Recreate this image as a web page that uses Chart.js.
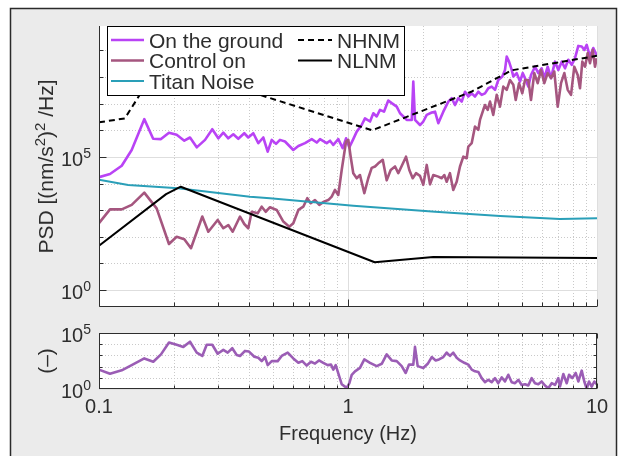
<!DOCTYPE html>
<html>
<head>
<meta charset="utf-8">
<script src="https://cdn.jsdelivr.net/npm/chart.js@4.4.1/dist/chart.umd.min.js"></script>
<style>
  html, body { margin: 0; padding: 0; background: #fff; }
  #wrap { position: relative; width: 622px; height: 456px; overflow: hidden; }
  #wrap canvas { position: absolute; left: 0; top: 0; }
</style>
</head>
<body>
<div id="wrap">
  <canvas id="psdChart" width="622" height="456"></canvas>
  <canvas id="ratioChart" width="622" height="456"></canvas>
</div>
<script>
// PSD comparison: ground vs control, with Peterson noise models and ratio panel.

// --- data (frequency in Hz, PSD in (nm/s^2)^2/Hz) ---
const groundFreq = [
  0.100, 0.1107, 0.1234, 0.1353, 0.152, 0.165, 0.1774, 0.191, 0.2051, 0.2201, 0.232, 0.2469, 0.2666,
  0.2851, 0.3014, 0.3157, 0.3306, 0.3463, 0.3626, 0.3832, 0.3977, 0.4166, 0.4363, 0.4569, 0.4759,
  0.494, 0.514, 0.533, 0.5585, 0.603, 0.632, 0.672, 0.715, 0.749, 0.772, 0.821, 0.847, 0.873, 0.914, 0.952, 0.982,
  1.012, 1.050, 1.084, 1.135, 1.170, 1.226, 1.264, 1.304, 1.344, 1.395, 1.451, 1.498, 1.569, 1.618, 1.668, 1.721, 1.803, 1.829,
  1.858, 1.946, 2.006, 2.071, 2.169, 2.236, 2.305, 2.414, 2.528, 2.609, 2.690, 2.773, 2.862, 2.951,
  3.042, 3.140, 3.236, 3.337, 3.443, 3.550, 3.660, 3.777, 3.895,
  4.014, 4.166, 4.271, 4.339, 4.433, 4.544, 4.612, 4.759, 4.907,
  5.030, 5.138, 5.298, 5.431, 5.636, 5.811, 5.996,
  6.143, 6.339, 6.536, 6.782, 6.993,
  7.216, 7.440, 7.670, 7.915,
  8.160, 8.413, 8.682, 8.892,
  9.091, 9.373, 9.663, 9.972
];
const groundPsd = [
  1.74e4, 2.29e4, 4.68e4, 1.82e5, 2.63e6, 4.79e5, 4.68e5, 8.13e5, 6.76e5, 4.07e5, 5.37e5, 2.29e5, 4.37e5,
  1.10e6, 5.01e5, 8.13e5, 5.01e5, 7.08e5, 4.79e5, 7.76e5, 5.37e5, 7.76e5, 3.31e5, 5.37e5, 1.58e5,
  4.37e5, 3.09e5, 4.37e5, 3.80e5, 1.82e5, 2.57e5, 3.31e5, 4.68e5, 3.47e5, 4.68e5, 3.31e5, 4.07e5, 2.82e5, 4.68e5, 2.14e5, 5.01e5,
  2.29e5, 4.68e5, 8.91e5, 1.58e6, 2.82e6, 2.14e6, 4.37e6, 3.31e6, 5.89e6, 5.01e6, 1.32e7, 1.05e7, 7.76e6, 4.37e6, 3.31e6, 2.45e6, 2.45e6, 6.76e7,
  2.45e6, 1.58e6, 2.14e6, 3.80e6, 4.68e6, 5.01e6, 1.86e6, 5.01e6, 1.20e7, 1.62e7, 8.91e6, 1.62e7, 1.20e7, 2.82e7,
  1.86e7, 2.45e7, 1.86e7, 2.82e7, 2.14e7, 2.45e7, 3.80e7, 4.37e7, 3.31e7,
  7.76e7, 1.05e8, 1.86e8, 5.89e8, 3.80e8, 1.86e8, 1.05e8, 1.41e8, 6.76e7,
  1.41e8, 9.12e7, 4.37e7, 1.20e8, 2.45e8, 1.41e8, 2.14e8,
  9.12e7, 2.45e8, 9.12e7, 3.80e8, 1.86e8,
  3.80e8, 2.14e8, 4.47e8, 2.88e8,
  5.13e8, 1.48e9, 1.41e9, 1.05e9,
  1.62e9, 5.89e8, 1.23e9, 6.76e8
];

const controlFreq = [
  0.100, 0.1107, 0.1234, 0.1353, 0.152, 0.1704, 0.191, 0.2051, 0.2201, 0.2341, 0.2599, 0.2748, 0.2996,
  0.3157, 0.3306, 0.3443, 0.3684, 0.3832, 0.3977, 0.4105, 0.4338, 0.4502, 0.4672, 0.4861, 0.5172,
  0.5498, 0.5811, 0.603, 0.632, 0.6614, 0.6863, 0.7083, 0.737, 0.7668, 0.8007, 0.8333, 0.8601, 0.8867, 0.914, 0.9434, 0.982,
  1.003, 1.025, 1.050, 1.084, 1.117, 1.163, 1.206, 1.245, 1.284, 1.323, 1.379, 1.430, 1.484, 1.545, 1.592, 1.643, 1.710, 1.763, 1.819, 1.876, 1.946,
  2.006, 2.071, 2.135, 2.201, 2.305, 2.378, 2.436, 2.491, 2.567, 2.647, 2.732, 2.817, 2.905, 2.997,
  3.042, 3.140, 3.236, 3.337, 3.389, 3.494, 3.550, 3.639, 3.718, 3.832, 3.955,
  4.077, 4.204, 4.339, 4.473, 4.612, 4.716, 4.862,
  5.012, 5.138, 5.298, 5.431, 5.600, 5.778, 5.957,
  6.143, 6.339, 6.536, 6.738, 6.954,
  7.169, 7.392, 7.628, 7.864,
  8.106, 8.366, 8.545, 8.730, 8.950,
  9.177, 9.373, 9.610, 9.817, 9.972
];
const controlPsd = [
  324, 1.07e3, 1.07e3, 1.58e3, 4.57e3, 1.17e3, 53.7, 100, 81.3, 37.2, 575, 155, 427,
  209, 275, 155, 575, 302, 209, 871, 759, 1.35e3, 871, 1.29e3, 1.02e3,
  372, 240, 324, 1.02e3, 1.35e3, 2.82e3, 1.82e3, 2.40e3, 1.58e3, 2.09e3, 2.40e3, 3.24e3, 5.75e3, 3.72e3, 3.24e4, 3.80e5,
  4.37e5, 1.02e5, 2.45e4, 1.58e4, 2.09e4, 4.37e3, 1.58e4, 3.89e4, 4.37e4, 5.75e4, 7.76e4, 1.32e4, 3.24e4, 4.37e4, 2.45e4, 4.57e4, 1.02e5, 3.24e4, 1.58e4, 2.45e4, 1.95e4,
  8.91e3, 5.01e4, 9.33e3, 2.09e4, 1.82e4, 1.58e4, 2.09e4, 1.17e4, 2.45e4, 5.75e3, 1.17e4, 4.37e4, 1.02e5, 8.91e4,
  2.45e5, 3.31e5, 1.38e6, 1.05e6, 2.45e6, 5.89e6, 8.91e6, 5.89e6, 1.20e7, 3.80e6, 2.14e7,
  7.76e6, 4.37e7, 3.31e7, 7.76e7, 5.13e7, 1.38e7, 5.89e7,
  2.45e7, 7.76e7, 7.76e7, 1.38e7, 1.41e8, 5.89e7, 1.86e8,
  5.89e7, 1.41e8, 9.12e7, 1.62e8, 7.76e6,
  5.89e7, 1.41e8, 3.31e7, 2.14e7,
  2.45e8, 1.20e8, 3.80e7, 3.80e8, 2.45e8,
  7.94e8, 3.31e8, 1.05e9, 2.45e8, 5.13e8
];

const titanFreq = [0.1, 0.131, 0.208, 0.404, 0.486, 1.05, 2.24, 4.08, 7.1, 10];
const titanPsd = [1.38e4, 8.9e3, 6.6e3, 3.16e3, 2.82e3, 1.48e3, 871, 603, 468, 501];

const nhnmFreq = [0.1, 0.127, 0.159, 0.217, 0.263, 1.25, 3.125, 4.545, 10];
const nhnmPsd = [2.0e6, 2.8e6, 7.9e7, 2.2e8, 1.0e8, 1.0e6, 2.8e7, 1.8e8, 6.3e8];

const nlnmFreq = [0.1, 0.186, 0.213, 1.28, 2.2, 10];
const nlnmPsd = [46, 4.0e3, 7.6e3, 11, 17.4, 15.8];

// ratio ground / control (bottom panel)
const ratioFreq = [
  0.100, 0.1107, 0.1234, 0.1353, 0.152, 0.1652, 0.1774, 0.191, 0.2051, 0.2181, 0.232, 0.2469, 0.2599, 0.2707, 0.2851,
  0.2996, 0.3157, 0.3287, 0.343, 0.3573, 0.3684, 0.3858, 0.4004, 0.4205, 0.4363,
  0.4502, 0.4642, 0.4759, 0.494, 0.522, 0.5416, 0.5726, 0.603, 0.632, 0.6554,
  0.6826, 0.7102, 0.737, 0.7647, 0.7956, 0.8287, 0.8545, 0.873, 0.8925, 0.9434,
  0.9881, 1.012, 1.035, 1.067, 1.117, 1.163, 1.226, 1.304, 1.366, 1.430,
  1.498, 1.569, 1.643, 1.705, 1.758, 1.829, 1.858, 1.905, 2.006, 2.090,
  2.169, 2.250, 2.320, 2.414, 2.491, 2.567, 2.647, 2.732, 2.817, 2.932,
  3.042, 3.140, 3.236, 3.337, 3.443, 3.550, 3.660, 3.777, 3.895, 4.014,
  4.143, 4.271, 4.403, 4.544, 4.686, 4.831, 4.984, 5.138, 5.298, 5.467,
  5.636, 5.811, 5.996, 6.182, 6.373, 6.578, 6.782, 6.993, 7.102, 7.324,
  7.558, 7.721, 7.958, 8.213, 8.413, 8.682, 8.892, 9.091, 9.289, 9.521,
  9.755, 9.972
];
const ratioVal = [
  53.7, 22.9, 46.8, 135, 537, 269, 1.23e3, 1.41e4, 8.91e3, 5.75e3, 1.66e4, 1.78e3, 891, 8.91e3, 8.91e3,
  1.41e3, 3.09e3, 1.78e3, 4.37e3, 1.10e3, 891, 2.51e3, 2.19e3, 759, 617,
  309, 708, 135, 309, 309, 891, 1.78e3, 537, 219, 309,
  123, 269, 186, 355, 219, 135, 151, 53.7, 135, 2.69,
  1.26, 3.16, 18.6, 38.0, 75.9, 437, 219, 110, 178, 1.23e3,
  355, 309, 110, 26.9, 151, 151, 5.75e3, 110, 75.9, 178,
  708, 355, 437, 708, 1.78e3, 891, 1.78e3, 617, 355, 219,
  151, 53.7, 38.0, 33.1, 9.33, 4.07, 6.61, 4.07, 9.33, 3.31,
  11.0, 4.68, 18.6, 4.07, 3.31, 6.61, 2.29, 2.69, 2.04, 9.33,
  3.31, 2.69, 4.68, 2.04, 1.15, 3.31, 2.29, 9.33, 1.66, 21.9,
  3.31, 18.6, 9.33, 26.9, 4.68, 43.7, 4.68, 1.05, 4.68, 1.66,
  4.68, 2.69
];

// axis ticks
const xMajorTicks = [0.1, 1, 10];
const xTickLabels = ['0.1', '1', '10'];
const xMinorTicks = [0.2, 0.3, 0.4, 0.5, 0.6, 0.7, 0.8, 0.9, 2, 3, 4, 5, 6, 7, 8, 9];
const psdDecades = [1, 10, 100, 1e3, 1e4, 1e5, 1e6, 1e7, 1e8, 1e9];
const psdLabelTicks = [1, 1e5];
const psdLabelExp = ['0', '5'];
const ratioDecades = [1, 10, 100, 1e3, 1e4, 1e5];
const ratioLabelTicks = [1, 1e5];
const ratioLabelExp = ['0', '5'];

const FONT = '"Liberation Sans", Arial, sans-serif';
const INK = '#2e2e2e';

// draw text made of normal and superscript pieces
function richText(ctx, parts, x, y, align, size) {
  const supSize = Math.round(size * 0.7);
  let w = 0;
  parts.forEach(([t, sup]) => {
    ctx.font = (sup ? supSize : size) + 'px ' + FONT;
    w += ctx.measureText(t).width;
  });
  let cx = align === 'center' ? x - w / 2 : align === 'right' ? x - w : x;
  ctx.textAlign = 'left';
  ctx.textBaseline = 'alphabetic';
  parts.forEach(([t, sup]) => {
    ctx.font = (sup ? supSize : size) + 'px ' + FONT;
    ctx.fillText(t, cx, sup ? y - size * 0.4 : y);
    cx += ctx.measureText(t).width;
  });
}

function line(ctx, x1, y1, x2, y2) {
  ctx.beginPath();
  ctx.moveTo(x1, y1);
  ctx.lineTo(x2, y2);
  ctx.stroke();
}

const panelPlugin = {
  id: 'panel',
  beforeDraw(chart, args, o) {
    const { ctx, chartArea: a } = chart;
    const xs = chart.scales.x, ys = chart.scales.y;
    ctx.save();
    if (o.frame) {
      ctx.fillStyle = '#ebebeb';
      ctx.fillRect(10, 8, 607, 470);
      ctx.strokeStyle = '#2a2a2a';
      ctx.lineWidth = 1.5;
      ctx.strokeRect(10.5, 8.5, 606, 470);
    }
    ctx.fillStyle = '#fff';
    ctx.fillRect(a.left, a.top, a.right - a.left, a.bottom - a.top);

    ctx.lineWidth = 1;
    // dotted minor grid
    ctx.strokeStyle = '#c9c9c9';
    ctx.setLineDash([1, 2]);
    xMinorTicks.forEach(v => {
      const x = Math.round(xs.getPixelForValue(v)) + 0.5;
      line(ctx, x, a.top, x, a.bottom);
    });
    o.decades.forEach(v => {
      if (o.labelTicks.includes(v)) return;
      const y = Math.round(ys.getPixelForValue(v)) + 0.5;
      if (y < a.top || y > a.bottom) return;
      line(ctx, a.left, y, a.right, y);
    });
    // solid major grid
    ctx.setLineDash([]);
    ctx.strokeStyle = '#dedede';
    xMajorTicks.forEach(v => {
      const x = Math.round(xs.getPixelForValue(v)) + 0.5;
      line(ctx, x, a.top, x, a.bottom);
    });
    o.labelTicks.forEach(v => {
      const y = Math.round(ys.getPixelForValue(v)) + 0.5;
      line(ctx, a.left, y, a.right, y);
    });
    ctx.restore();
  },
  afterDatasetsDraw(chart, args, o) {
    const { ctx, chartArea: a } = chart;
    const xs = chart.scales.x, ys = chart.scales.y;
    ctx.save();
    ctx.strokeStyle = INK;
    ctx.lineWidth = 1;
    const L = Math.round(a.left) + 0.5, R = Math.round(a.right) - 0.5;
    const T = Math.round(a.top) + 0.5, B = Math.round(a.bottom) - 0.5;
    if (o.box) {
      ctx.strokeRect(L, T, R - L, B - T);
    } else {
      line(ctx, L, a.top, L, B);
      line(ctx, L, B, a.right, B);
    }
    // x ticks (inward)
    const xt = (v, len) => {
      const x = Math.round(xs.getPixelForValue(v)) + 0.5;
      line(ctx, x, B, x, B - len);
      if (o.box) line(ctx, x, T, x, T + len);
    };
    xMinorTicks.forEach(v => xt(v, o.minorLen));
    xMajorTicks.forEach(v => xt(v, o.majorLen));
    // y ticks (inward)
    o.decades.forEach(v => {
      const y = Math.round(ys.getPixelForValue(v)) + 0.5;
      if (y < a.top || y > a.bottom) return;
      const len = o.labelTicks.includes(v) ? o.majorLen : o.minorLen;
      line(ctx, L, y, L + len, y);
      if (o.box) line(ctx, R, y, R - len, y);
    });

    // tick labels
    ctx.fillStyle = INK;
    o.labelTicks.forEach((v, i) => {
      const y = ys.getPixelForValue(v);
      richText(ctx, [['10', false], [o.labelExp[i], true]], a.left - 8, y + 9, 'right', 20);
    });
    if (o.xLabels) {
      xMajorTicks.forEach((v, i) => {
        richText(ctx, [[xTickLabels[i], false]], xs.getPixelForValue(v), a.bottom + 24, 'center', 20);
      });
      richText(ctx, [['Frequency (Hz)', false]], (a.left + a.right) / 2, a.bottom + 51, 'center', 20);
    }
    // y title
    ctx.translate(53, (a.top + a.bottom) / 2);
    ctx.rotate(-Math.PI / 2);
    richText(ctx, o.yTitle, 0, 0, 'center', 21);
    ctx.restore();
  },
  afterDraw(chart, args, o) {
    if (!o.legend) return;
    const { ctx } = chart;
    const ds = chart.data.datasets;
    ctx.save();
    ctx.fillStyle = '#fff';
    ctx.fillRect(107, 26, 298, 70);
    ctx.strokeStyle = '#000';
    ctx.lineWidth = 1;
    ctx.strokeRect(107.5, 26.5, 297, 69);
    const rows = [40, 60.5, 81];
    const cols = [{ x0: 111, x1: 144, tx: 149 }, { x0: 298, x1: 332, tx: 337 }];
    ds.forEach((d, i) => {
      const c = cols[i < 3 ? 0 : 1];
      const y = rows[i < 3 ? i : i - 3];
      ctx.strokeStyle = d.borderColor;
      ctx.lineWidth = d.borderWidth;
      ctx.setLineDash(d.borderDash || []);
      line(ctx, c.x0, y, c.x1, y);
      ctx.setLineDash([]);
      ctx.fillStyle = INK;
      richText(ctx, [[d.label, false]], c.tx, y + 7.5, 'left', 21);
    });
    ctx.restore();
  }
};

function series(label, fx, fy, color, width, order, dash) {
  return {
    label,
    data: fx.map((f, i) => ({ x: f, y: fy[i] })),
    borderColor: color,
    borderWidth: width,
    borderDash: dash || [],
    borderJoinStyle: 'round',
    pointRadius: 0,
    tension: 0,
    fill: false,
    order
  };
}

function baseOptions(padding, yMin, yMax, panel) {
  return {
    responsive: false,
    animation: false,
    events: [],
    devicePixelRatio: 1,
    layout: { padding },
    plugins: { legend: { display: false }, tooltip: { enabled: false }, panel },
    scales: {
      x: { type: 'logarithmic', min: 0.1, max: 10, display: false },
      y: { type: 'logarithmic', min: yMin, max: yMax, display: false }
    }
  };
}

new Chart(document.getElementById('psdChart'), {
  type: 'line',
  data: {
    datasets: [
      series('On the ground', groundFreq, groundPsd, '#b943f5', 2.6, 5),
      series('Control on', controlFreq, controlPsd, '#a5567f', 2.6, 4),
      series('Titan Noise', titanFreq, titanPsd, '#2a9fb8', 2, 3),
      series('NHNM', nhnmFreq, nhnmPsd, '#000000', 2, 2, [6, 4]),
      series('NLNM', nlnmFreq, nlnmPsd, '#000000', 2, 1)
    ]
  },
  options: baseOptions({ left: 99, right: 25, top: 26, bottom: 149 }, 0.23, 8.3e9, {
    frame: true, box: false, legend: true, xLabels: false,
    decades: psdDecades, labelTicks: psdLabelTicks, labelExp: psdLabelExp,
    minorLen: 4, majorLen: 7,
    yTitle: [['PSD [(nm/s', false], ['2', true], [')', false], ['2', true], [' /Hz]', false]]
  }),
  plugins: [panelPlugin]
});

new Chart(document.getElementById('ratioChart'), {
  type: 'line',
  data: {
    datasets: [series('Ratio', ratioFreq, ratioVal, '#9b5db5', 2.6, 1)]
  },
  options: baseOptions({ left: 99, right: 25, top: 333, bottom: 67 }, 1, 1e5, {
    frame: false, box: true, legend: false, xLabels: true,
    decades: ratioDecades, labelTicks: ratioLabelTicks, labelExp: ratioLabelExp,
    minorLen: 3, majorLen: 5,
    yTitle: [['(–)', false]]
  }),
  plugins: [panelPlugin]
});
</script>
</body>
</html>
